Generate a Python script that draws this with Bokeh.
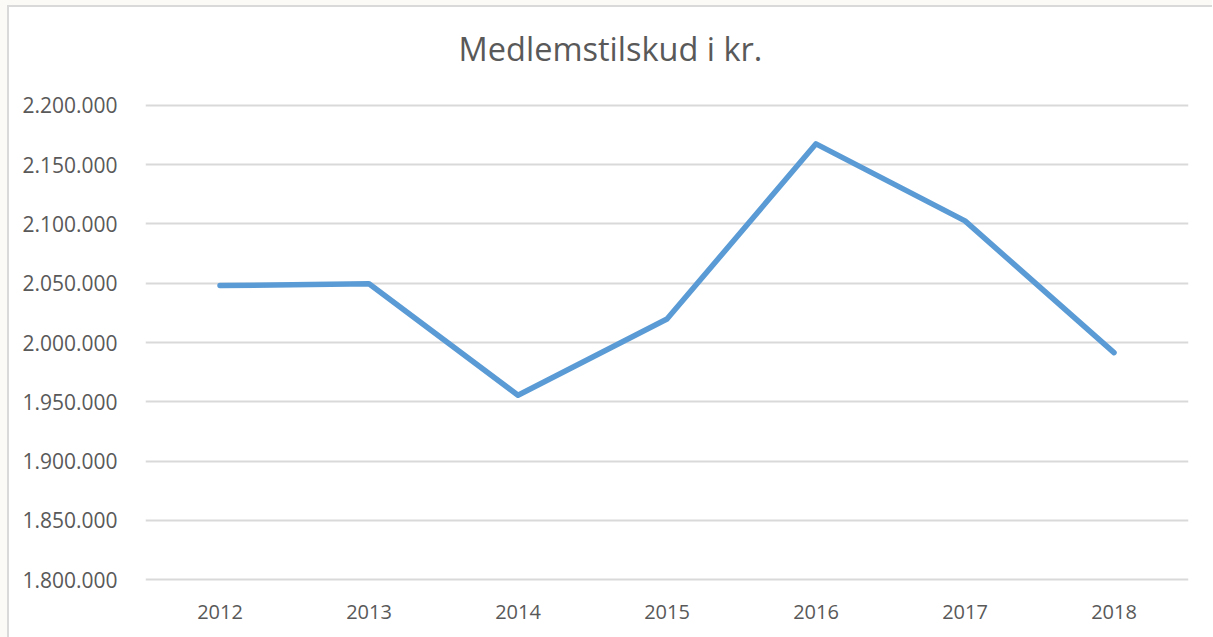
from bokeh.plotting import figure
from bokeh.models import FactorRange, Range1d, FixedTicker, Div
from bokeh.layouts import column
from bokeh.embed import file_html
from bokeh.resources import INLINE

years = ["2012", "2013", "2014", "2015", "2016", "2017", "2018"]
values = [2048000, 2049500, 1955500, 2019800, 2167500, 2102500, 1991500]
y_ticks = [1800000, 1850000, 1900000, 1950000, 2000000, 2050000, 2100000, 2150000, 2200000]
y_tick_labels = ["1.800.000", "1.850.000", "1.900.000", "1.950.000", "2.000.000",
                 "2.050.000", "2.100.000", "2.150.000", "2.200.000"]
title_text = "Medlemstilskud i kr."

FONT = "Open Sans"
TXT = "#595959"
GRID = "#d9d9d9"
CREAM = "#fbfaf7"

title_div = Div(text=title_text, width=1203, height=70, margin=0,
                styles={"font-family": FONT, "font-size": "32.5px", "color": TXT,
                        "text-align": "center", "line-height": "84px",
                        "background-color": "white", "white-space": "nowrap"})

p = figure(width=1203, height=560, x_range=FactorRange(*years, range_padding=0),
           y_range=Range1d(1798500, 2201500), output_backend="svg",
           toolbar_location=None, min_border_left=136, min_border_right=24,
           min_border_top=26, min_border_bottom=56, title=None, margin=0)
p.outline_line_color = None
p.background_fill_color = "white"
p.border_fill_color = "white"

p.line(x=years, y=values, line_color="#5B9BD5", line_width=5.5,
       line_cap="round", line_join="round")

p.xgrid.grid_line_color = None
p.ygrid.ticker = FixedTicker(ticks=y_ticks)
p.ygrid.grid_line_color = GRID
p.ygrid.grid_line_width = 2

p.yaxis.ticker = FixedTicker(ticks=y_ticks)
p.yaxis.major_label_overrides = {t: l for t, l in zip(y_ticks, y_tick_labels)}
p.yaxis.axis_line_color = None
p.yaxis.major_tick_line_color = None
p.yaxis.minor_tick_line_color = None
p.yaxis.major_label_standoff = 22
p.yaxis.major_label_text_font = FONT
p.yaxis.major_label_text_font_size = "21px"
p.yaxis.major_label_text_color = TXT

p.xaxis.axis_line_color = None
p.xaxis.major_tick_line_color = None
p.xaxis.major_label_standoff = 17
p.xaxis.major_label_text_font = FONT
p.xaxis.major_label_text_font_size = "20px"
p.xaxis.major_label_text_color = TXT

inner = column(title_div, p, spacing=0,
               styles={"border-left": "2px solid #d9d9d9", "border-top": "2px solid #d9d9d9",
                       "background-color": "white"})
layout = column(inner, styles={"background-color": CREAM, "padding": "5px 0 0 7px"})

open("out.html", "w").write(file_html(layout, INLINE))
